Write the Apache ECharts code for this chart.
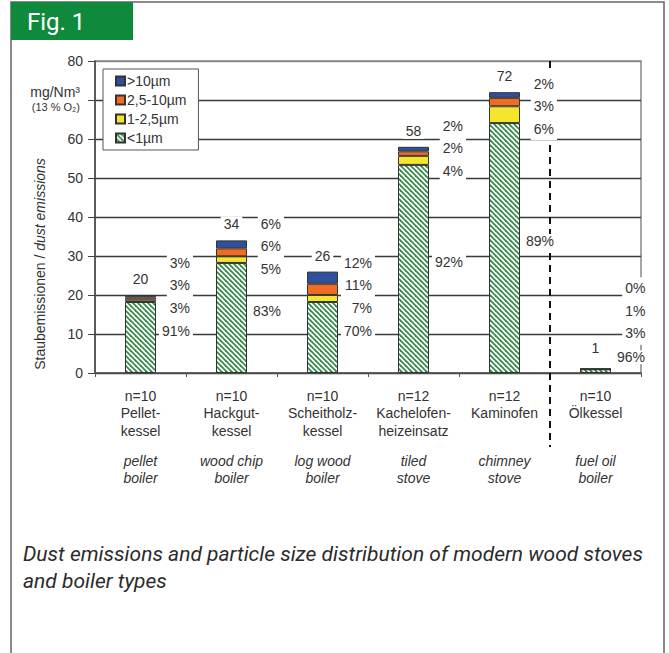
<!DOCTYPE html>
<html>
<head>
<meta charset="utf-8">
<script src="https://cdn.jsdelivr.net/npm/echarts@6/dist/echarts.min.js"></script>
<style>
  html, body { margin: 0; padding: 0; background: #fff; }
  #chart { width: 669px; height: 653px; }
</style>
</head>
<body>
<div id="chart"></div>
<script>
// categories (German name lines) and English names
const categories = ["Pellet-\nkessel", "Hackgut-\nkessel", "Scheitholz-\nkessel", "Kachelofen-\nheizeinsatz", "Kaminofen", "Ölkessel"];
const englishNames = ["pellet\nboiler", "wood chip\nboiler", "log wood\nboiler", "tiled\nstove", "chimney\nstove", "fuel oil\nboiler"];
const sampleSizes = [10, 10, 10, 12, 12, 10];

// total dust emissions, mg/Nm3 (13 % O2)
const totals = [20, 34, 26, 58, 72, 1];

// particle size shares in %
const shareBelow1 = [91, 83, 70, 92, 89, 96];
const share1to25 = [3, 5, 7, 4, 6, 3];
const share25to10 = [3, 6, 11, 2, 3, 1];
const shareAbove10 = [3, 6, 12, 2, 2, 0];

const seriesNames = [">10µm", "2,5-10µm", "1-2,5µm", "<1µm"];

// the 70 tick carries the unit instead of a number
const unitTick = 70;

const FONT = "'Liberation Sans', Arial, sans-serif";
const TXT = "#333";

// hatch pattern for the <1µm part
const stripe = document.createElement("canvas");
stripe.width = 5;
stripe.height = 5;
const sc = stripe.getContext("2d");
sc.fillStyle = "#fff";
sc.fillRect(0, 0, 5, 5);
sc.strokeStyle = "#3a8c4e";
sc.lineWidth = 1.8;
for (const k of [-5, 0, 5]) {
  sc.beginPath();
  sc.moveTo(k - 1, -1);
  sc.lineTo(k + 6, 6);
  sc.stroke();
}

const part = (shares) => totals.map((t, i) => +(t * shares[i] / 100).toFixed(3));
const isTiny = (i) => totals[i] < 5;

const pctLabel = {
  show: true,
  color: TXT,
  fontFamily: FONT,
  fontSize: 14,
  backgroundColor: "#fff",
  padding: [0, 3],
  align: "right",
};

const chart = echarts.init(document.getElementById("chart"), null, { renderer: "svg" });

chart.setOption({
  animation: false,
  textStyle: { fontFamily: FONT },
  grid: {
    left: 95, right: 28, top: 61, bottom: 280,
    show: true, borderColor: "#888", borderWidth: 1.5,
  },
  legend: {
    data: seriesNames,
    orient: "vertical",
    left: 103, top: 69,
    icon: "rect",
    itemWidth: 9, itemHeight: 9, itemGap: 5,
    padding: [5, 12, 5, 12],
    borderColor: "#555", borderWidth: 1,
    backgroundColor: "#fff",
    textStyle: { fontSize: 14, color: TXT, fontFamily: FONT, padding: [0, 0, 0, -3] },
  },
  xAxis: {
    type: "category",
    data: categories,
    axisLine: { lineStyle: { color: "#555", width: 1.5 } },
    axisTick: { show: true, length: 4, lineStyle: { color: "#555" } },
    axisLabel: {
      margin: 14,
      interval: 0,
      formatter: (val, idx) => {
        const de = val.split("\n");
        const en = englishNames[idx].split("\n");
        return [
          `{n|n=${sampleSizes[idx]}}`,
          `{n|${de[0]}}`,
          `{n|${de[1] || " "}}`,
          "{g| }",
          `{i|${en[0]}}`,
          `{i|${en[1]}}`,
        ].join("\n");
      },
      rich: {
        n: { fontSize: 14, color: TXT, lineHeight: 17.5, fontFamily: FONT },
        g: { fontSize: 8, lineHeight: 13 },
        i: { fontSize: 14, color: TXT, lineHeight: 17, fontStyle: "italic", fontFamily: FONT },
      },
    },
  },
  yAxis: {
    type: "value",
    min: 0, max: 80, interval: 10,
    axisLine: { show: true, lineStyle: { color: "#444", width: 1.5 } },
    axisTick: { show: true, length: 7, lineStyle: { color: "#444" } },
    axisLabel: {
      fontSize: 14, color: TXT, margin: 12, fontFamily: FONT,
      formatter: (v) => (v === unitTick ? "" : String(v)),
    },
    splitLine: {
      lineStyle: {
        color: ["#3a3a3a", "#3a3a3a", "#3a3a3a", "#3a3a3a", "#3a3a3a", "#3a3a3a", "#3a3a3a", "#3a3a3a", "#888"],
        width: 1.3,
      },
    },
  },
  series: [
    {
      name: "<1µm",
      type: "bar",
      stack: "dust",
      barWidth: 31,
      itemStyle: { color: { image: stripe, repeat: "repeat" }, borderColor: "#333", borderWidth: 1 },
      data: part(shareBelow1).map((v, i) =>
        isTiny(i) ? { value: v, label: { offset: [37, -14] } } : v),
      label: Object.assign({}, pctLabel, {
        position: ["100%", "50%"],
        verticalAlign: "middle",
        offset: [37, -7],
        formatter: (p) => shareBelow1[p.dataIndex] + "%",
      }),
    },
    {
      name: "1-2,5µm",
      type: "bar",
      stack: "dust",
      itemStyle: { color: "#f4e62c", borderColor: "#333", borderWidth: 1 },
      data: part(share1to25).map((v, i) =>
        isTiny(i) ? { value: v, label: { offset: [37, -25] } } : v),
      label: Object.assign({}, pctLabel, {
        position: ["100%", "100%"],
        verticalAlign: "bottom",
        lineHeight: 22.5,
        offset: [37, 17],
        formatter: (p) => {
          const i = p.dataIndex;
          return [shareAbove10[i], share25to10[i], share1to25[i]].map((v) => v + "%").join("\n");
        },
      }),
    },
    {
      name: "2,5-10µm",
      type: "bar",
      stack: "dust",
      itemStyle: { color: "#f26b21", borderColor: "#333", borderWidth: 1 },
      data: part(share25to10),
    },
    {
      name: ">10µm",
      type: "bar",
      stack: "dust",
      itemStyle: { color: "#2f4f9f", borderColor: "#333", borderWidth: 1 },
      data: part(shareAbove10).map((v, i) =>
        isTiny(i) ? { value: v, label: { distance: 13 } } : v),
      label: {
        show: true,
        position: "top",
        distance: 8,
        color: TXT,
        fontSize: 14,
        fontFamily: FONT,
        backgroundColor: "#fff",
        padding: [1, 3],
        formatter: (p) => String(totals[p.dataIndex]),
      },
    },
  ],
  graphic: [
    {
      id: "frame", type: "rect", z: -10, silent: true,
      shape: { x: 11, y: 2, width: 653, height: 670 },
      style: { fill: "none", stroke: "#666", lineWidth: 1.5 },
    },
    {
      id: "figbox", type: "rect", silent: true,
      shape: { x: 11, y: 2, width: 122, height: 38 },
      style: { fill: "#0f8a3d" },
    },
    {
      id: "figtext", type: "text", silent: true, x: 27, y: 22,
      style: { text: "Fig. 1", fill: "#fff", font: "24px Roboto, sans-serif", textVerticalAlign: "middle" },
    },
    {
      id: "unit", type: "text", silent: true, x: 80, y: 99,
      style: {
        text: "{u|mg/Nm³}\n{s|(13 % O₂)}",
        align: "right",
        verticalAlign: "middle",
        rich: {
          u: { fontSize: 14, fill: TXT, fontFamily: FONT, lineHeight: 16, align: "right" },
          s: { fontSize: 11, fill: TXT, fontFamily: FONT, lineHeight: 14, align: "right" },
        },
      },
    },
    {
      id: "ytitle", type: "text", silent: true, x: 40, y: 264, rotation: Math.PI / 2,
      style: {
        text: "{a|Staubemissionen / }{b|dust emissions}",
        align: "center",
        verticalAlign: "middle",
        rich: {
          a: { fontSize: 14, fill: TXT, fontFamily: FONT },
          b: { fontSize: 14, fill: TXT, fontFamily: FONT, fontStyle: "italic" },
        },
      },
    },
    {
      id: "caption", type: "text", silent: true, x: 23, y: 540,
      style: {
        text: "Dust emissions and particle size distribution of modern wood stoves\nand boiler types",
        fill: "#2b2b2b",
        font: "italic 21px Roboto, sans-serif",
        lineHeight: 27,
      },
    },
  ],
});

// dashed separator between wood appliances and the oil boiler
const xa = chart.convertToPixel({ xAxisIndex: 0 }, categories[categories.length - 2]);
const xb = chart.convertToPixel({ xAxisIndex: 0 }, categories[categories.length - 1]);
chart.setOption({
  graphic: [
    {
      id: "divider", type: "line", silent: true, z: 1,
      shape: { x1: (xa + xb) / 2, y1: 61, x2: (xa + xb) / 2, y2: 447 },
      style: { stroke: "#111", lineWidth: 2, lineDash: [7, 5] },
    },
  ],
});
</script>
</body>
</html>
